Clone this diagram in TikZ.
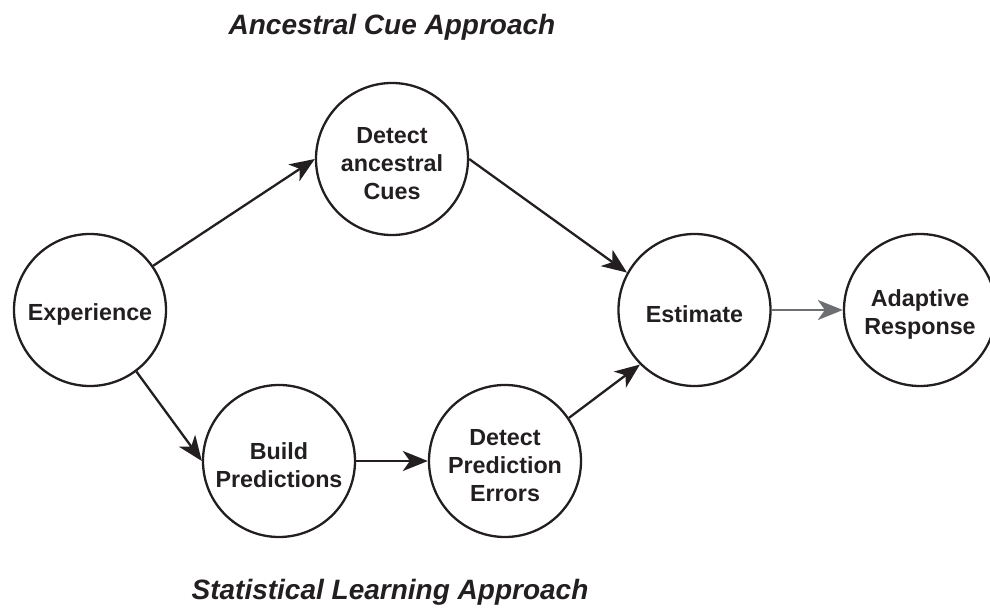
\documentclass[tikz,border=0pt]{standalone}
\usepackage{fontspec}
\setmainfont{Liberation Sans}
\usetikzlibrary{arrows.meta}
\definecolor{ink}{HTML}{231F20}
\definecolor{greyarrow}{HTML}{6D6E71}
\begin{document}
\begin{tikzpicture}[x=1pt,y=-1pt,
  state/.style={circle,draw=ink,line width=2.3pt,minimum size=152pt,inner sep=0pt},
  statetext/.style={align=center,text=ink,yshift=-4.5pt,inner sep=0pt,
    font=\fontsize{23.3}{28}\selectfont\bfseries},
  title/.style={text=ink,font=\fontsize{28}{32}\selectfont\bfseries\itshape},
  link/.style={draw=ink,line width=2.3pt,-{Stealth[length=25pt,width=20pt,inset=7pt]}},
  greylink/.style={draw=greyarrow,line width=2.3pt,-{Stealth[length=25pt,width=20pt,inset=7pt]}}]
\useasboundingbox (0,0) rectangle (990,609);
\node[title] (t1) at (392,27) {Ancestral Cue Approach};
\node[title] (t2) at (390,592) {Statistical Learning Approach};
\node[state,label={[statetext]center:Experience}] (exp) at (90,310) {};
\node[state,label={[statetext]center:Detect\\ancestral\\Cues}] (det) at (392,159) {};
\node[state,label={[statetext]center:Estimate}] (est) at (694.5,310) {};
\node[state,label={[statetext]center:Adaptive\\Response}] (ada) at (920,310) {};
\node[state,label={[statetext]center:Build\\Predictions}] (bld) at (279,461) {};
\node[state,label={[statetext]center:Detect\\Prediction\\Errors}] (dpe) at (505,461) {};
\draw[link] (exp.35) -- (det.west);
\draw[link] (det.east) -- (est.151);
\draw[link] (exp.-53) -- (bld.west);
\draw[link] (bld.east) -- (dpe.west);
\draw[link] (dpe.34) -- (est.-135);
\draw[greylink] (est.east) -- (ada.west);
\end{tikzpicture}
\end{document}
